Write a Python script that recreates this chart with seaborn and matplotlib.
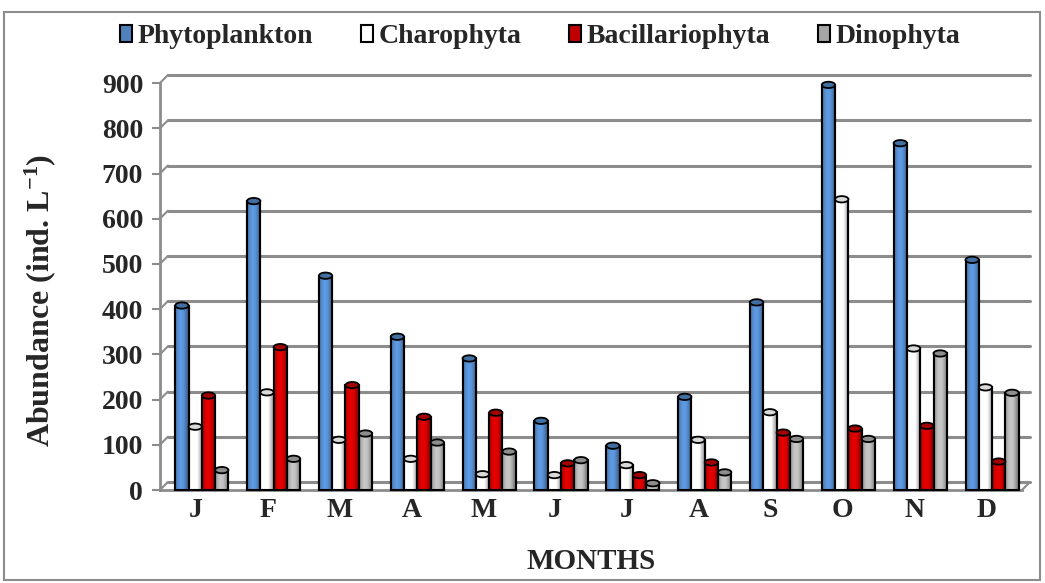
import matplotlib
matplotlib.use("Agg")
import matplotlib.pyplot as plt
import matplotlib.transforms as mtransforms
from matplotlib.colors import to_rgb
from matplotlib.patches import Ellipse, Rectangle
import seaborn as sns
import pandas as pd
import numpy as np

months = ['J', 'F', 'M', 'A', 'M', 'J', 'J', 'A', 'S', 'O', 'N', 'D']
series = ['Phytoplankton', 'Charophyta', 'Bacillariophyta', 'Dinophyta']
phytoplankton = [408, 639, 474, 339, 291, 153, 98, 206, 415, 896, 767, 509]
charophyta = [140, 216, 111, 69, 35, 33, 55, 111, 172, 643, 313, 227]
bacillariophyta = [209, 316, 232, 162, 171, 59, 33, 61, 127, 136, 142, 63]
dinophyta = [44, 69, 125, 105, 85, 66, 15, 39, 113, 113, 302, 215]
colors = ['#4F81BD', '#FFFFFF', '#C00000', '#A6A6A6']
yticks = [0, 100, 200, 300, 400, 500, 600, 700, 800, 900]

values = [phytoplankton, charophyta, bacillariophyta, dinophyta]
rows = []
for s, vals in zip(series, values):
    for i, v in enumerate(vals):
        rows.append({'idx': i, 'series': s, 'value': v})
df = pd.DataFrame(rows)

sns.set_theme(style='white')
plt.rcParams['font.family'] = ['Liberation Serif', 'DejaVu Serif']
plt.rcParams['font.weight'] = 'bold'
plt.rcParams['mathtext.fontset'] = 'custom'
plt.rcParams['mathtext.rm'] = 'Liberation Serif:bold'
plt.rcParams['mathtext.bf'] = 'Liberation Serif:bold'
plt.rcParams['mathtext.it'] = 'Liberation Serif:bold'

GRID = '#8C8C8C'
fig = plt.figure(figsize=(10.45, 5.83), dpi=100)
ax = fig.add_axes([0.153, 0.1595, 0.825, 0.698])

sns.barplot(data=df, x='idx', y='value', hue='series', hue_order=series,
            palette=colors, width=0.74, dodge=True, ax=ax,
            edgecolor='black', linewidth=1.5, saturation=1, legend=True)

ax.set_ylim(0, 900)
ax.set_xlim(-0.5, 11.5)

# 3D-like depth offsets
shift = mtransforms.ScaledTranslation(6 / 100, 0, fig.dpi_scale_trans)
back = mtransforms.ScaledTranslation(8 / 100, 8 / 100, fig.dpi_scale_trans)

# cylinder shading profile across the bar width
xs = np.linspace(0, 1, 60)
profile = 0.78 + 0.42 * np.sin(np.pi * np.clip(xs * 1.15, 0, 1)) ** 0.8

bars = [p for c in ax.containers for p in c
        if np.isfinite(p.get_height()) and p.get_height() > 0]
for bar in bars:
    fc = np.array(to_rgb(bar.get_facecolor()))
    bar.set_edgecolor('black')
    bar.set_linewidth(1.5)
    bar.set_zorder(3)
    bar.set_transform(ax.transData + shift)
    h = bar.get_height()
    x0 = bar.get_x()
    w = bar.get_width()
    if fc.min() > 0.95:
        prof = np.where(xs < 0.6, 1.0, 1.0 - 0.45 * (xs - 0.6) / 0.4)
        grad = np.clip(fc[None, :] * prof[:, None], 0, 1)
    else:
        grad = np.clip(fc[None, :] * profile[:, None], 0, 1)
    im = ax.imshow(grad[None, :, :], extent=[x0, x0 + w, 0, h], aspect='auto',
                   zorder=3.02, interpolation='bilinear')
    im.set_transform(ax.transData + shift)
    im.set_clip_path(bar)
    edge = Rectangle((x0, 0), w, h, fill=False, edgecolor='black', linewidth=1.5,
                     zorder=3.05, transform=ax.transData + shift, clip_on=False)
    ax.add_patch(edge)
    cap = np.clip(fc * 0.85, 0, 1) if fc.min() < 0.95 else np.array([0.85, 0.85, 0.85])
    e = Ellipse((x0 + w / 2, h), w, 14, facecolor=cap, edgecolor='black',
                linewidth=1.3, zorder=3.1, transform=ax.transData + shift, clip_on=False)
    ax.add_patch(e)

ax.set_ylim(0, 900)
ax.set_xlim(-0.5, 11.5)
ax.set_yticks(yticks)
ax.set_yticklabels([str(t) for t in yticks], fontsize=20, fontweight='bold')

# back-wall gridlines with diagonal connectors to the front axis
inv = ax.transData.inverted()
for t in yticks:
    ax.plot([-0.5, 11.5], [t, t], color=GRID, linewidth=2.2, zorder=0,
            transform=ax.transData + back, clip_on=False)
    a = inv.transform(ax.transData.transform((-0.5, t)))
    b = inv.transform((ax.transData + back).transform((-0.5, t)))
    ax.plot([a[0], b[0]], [a[1], b[1]], color=GRID, linewidth=1.5, zorder=0, clip_on=False)
a = inv.transform(ax.transData.transform((11.5, 0)))
b = inv.transform((ax.transData + back).transform((11.5, 0)))
ax.plot([a[0], b[0]], [a[1], b[1]], color=GRID, linewidth=1.5, zorder=0, clip_on=False)

ax.set_xticks(range(12))
ax.set_xticklabels(months, fontsize=20, fontweight='bold')
ax.set_xticks(np.arange(-0.5, 12, 1), minor=True)
ax.tick_params(axis='x', which='major', length=0, pad=6)
ax.tick_params(axis='x', which='minor', length=8, color=GRID, width=1.5, direction='out')
ax.tick_params(axis='y', length=6, color=GRID, width=1.5, direction='out', pad=6, left=True)

for sp in ['top', 'right']:
    ax.spines[sp].set_visible(False)
for sp in ['left', 'bottom']:
    ax.spines[sp].set_color(GRID)
    ax.spines[sp].set_linewidth(2)

ax.set_xlabel('MONTHS', fontsize=21, fontweight='bold', labelpad=18)
ax.set_ylabel('Abundance (ind. L$^{-1}$)', fontsize=23, fontweight='bold')
ax.yaxis.set_label_coords(-0.118, 0.467)

handles, labels = ax.get_legend_handles_labels()
ax.get_legend().remove()
for hd in handles:
    hd.set_edgecolor('black')
    hd.set_linewidth(1.5)
leg = fig.legend(handles, labels, loc='center', bbox_to_anchor=(0.517, 0.937), ncol=4,
                 frameon=False, handlelength=0.45, handleheight=0.6, handletextpad=0.2,
                 columnspacing=1.7, prop={'size': 20, 'weight': 'bold'})

fig.patches.append(Rectangle((4 / 1045, 3 / 583), 1036 / 1045, 568 / 583,
                             transform=fig.transFigure, fill=False,
                             edgecolor=GRID, linewidth=1.5))

fig.savefig('out.png', dpi=100, facecolor='white')
